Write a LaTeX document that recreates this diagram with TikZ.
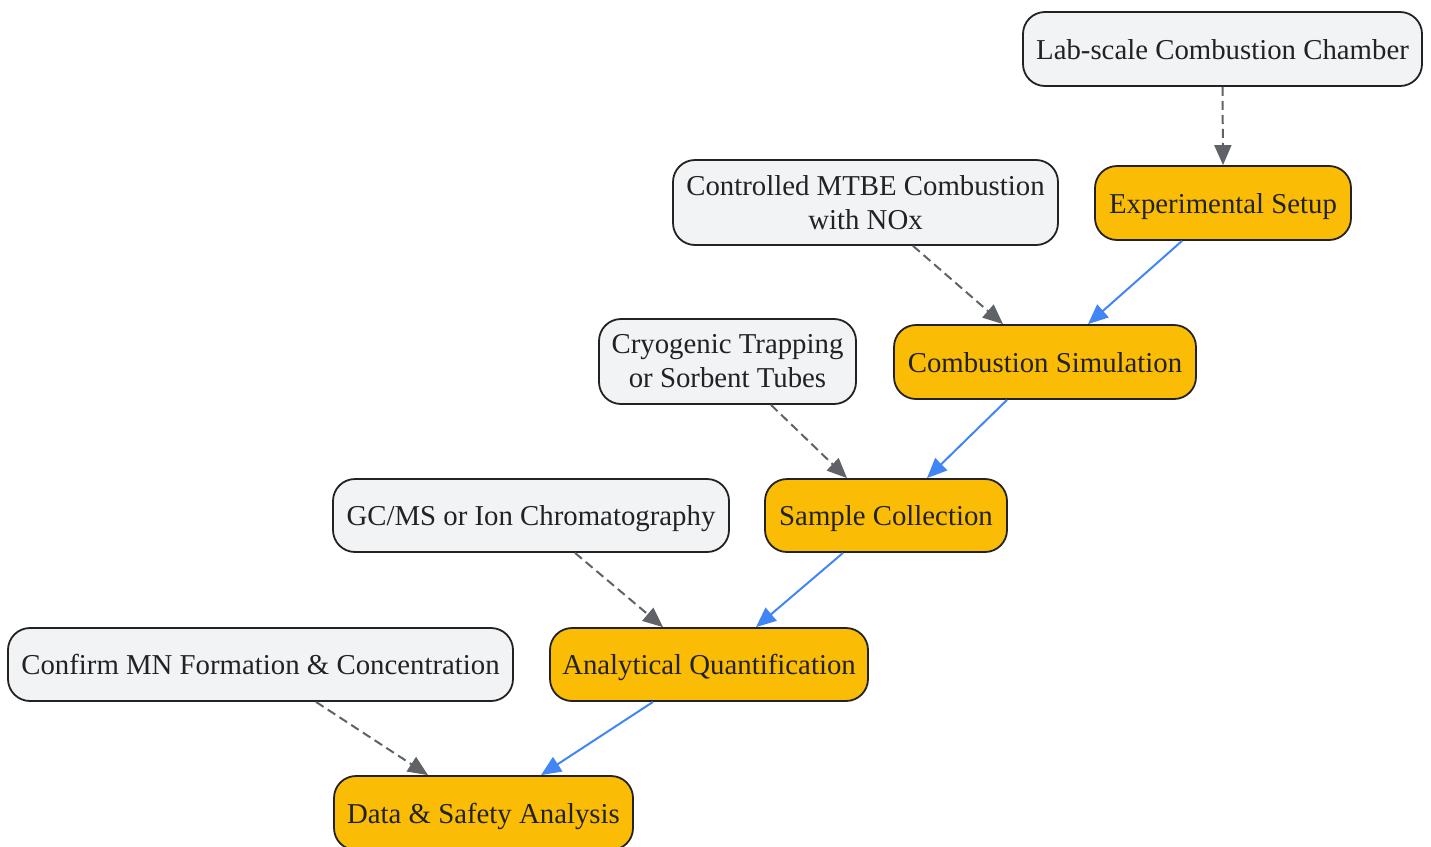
\documentclass[tikz,border=0pt]{standalone}
\usepackage{fontspec}
\setmainfont{Liberation Serif}
\usetikzlibrary{arrows.meta,calc}
\definecolor{boxgray}{HTML}{F2F3F5}
\definecolor{boxgold}{HTML}{FBBC05}
\definecolor{edgeblue}{HTML}{4285F4}
\definecolor{edgegray}{HTML}{5F6368}
\definecolor{ink}{HTML}{222222}
\begin{document}
\begin{tikzpicture}[x=1pt,y=-1pt,
  base/.style={draw=ink, line width=1.8pt, rounded corners=22pt, text=ink,
    font=\fontsize{28.8}{34}\selectfont, align=center, inner sep=0pt,
    text height=26.5pt, text depth=6.2pt},
  side/.style={base, fill=boxgray},
  sidetwo/.style={side, text height={}, text depth={}},
  main/.style={base, fill=boxgold},
  flow/.style={draw=edgeblue, line width=2pt, -{Triangle[length=20pt,width=17pt]}},
  link/.style={draw=edgegray, line width=2pt, dash pattern=on 9pt off 5pt,
    -{Triangle[length=20pt,width=17pt]}}]
\useasboundingbox (0,0) rectangle (1431,846);
\node[side, minimum width=399pt, minimum height=74pt] (lab) at (1222.5,49) {Lab-scale Combustion Chamber};
\node[main, minimum width=256pt, minimum height=74pt] (exp) at (1223,203) {Experimental Setup};
\node[sidetwo, minimum width=385pt, minimum height=85pt] (ctrl) at (865.5,202.5) {\raisebox{-2pt}{Controlled MTBE Combustion}\\\raisebox{-2pt}{with NOx}};
\node[main, minimum width=302pt, minimum height=74pt] (sim) at (1045,362) {Combustion Simulation};
\node[sidetwo, minimum width=257pt, minimum height=85pt] (cryo) at (727.5,361.5) {\raisebox{-2pt}{Cryogenic Trapping}\\\raisebox{-2pt}{or Sorbent Tubes}};
\node[main, minimum width=242pt, minimum height=73pt] (samp) at (886,515.5) {Sample Collection};
\node[side, minimum width=396pt, minimum height=73pt] (gcms) at (531,515.5) {GC/MS or Ion Chromatography};
\node[main, minimum width=318pt, minimum height=73pt] (anal) at (709,664.5) {Analytical Quantification};
\node[side, minimum width=505pt, minimum height=73pt] (conf) at (260.5,664.5) {Confirm MN Formation \& Concentration};
\node[main, minimum width=299pt, minimum height=74pt] (data) at (483.5,813) {Data \& Safety Analysis};

\draw[link] (lab.south) -- (exp.north);
\draw[flow] ($(exp.south)+(-41,0)$) -- ($(sim.north)+(43,0)$);
\draw[link] ($(ctrl.south)+(47.5,0)$) -- ($(sim.north)+(-42,0)$);
\draw[flow] ($(sim.south)+(-38,0)$) -- ($(samp.north)+(41,0)$);
\draw[link] ($(cryo.south)+(43.5,0)$) -- ($(samp.north)+(-39,0)$);
\draw[flow] ($(samp.south)+(-43,0)$) -- ($(anal.north)+(47,0)$);
\draw[link] ($(gcms.south)+(44,0)$) -- ($(anal.north)+(-46,0)$);
\draw[flow] ($(anal.south)+(-56,0)$) -- ($(data.north)+(57.5,0)$);
\draw[link] ($(conf.south)+(55.5,0)$) -- ($(data.north)+(-55.5,0)$);
\end{tikzpicture}
\end{document}
